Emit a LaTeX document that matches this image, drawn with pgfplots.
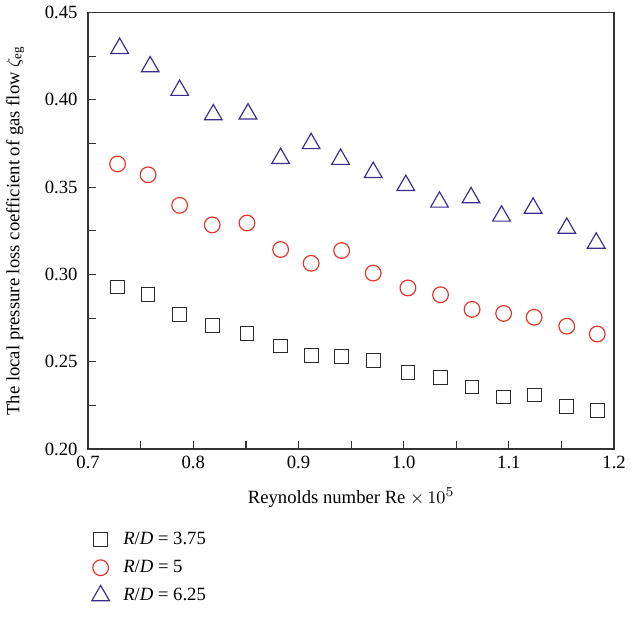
\documentclass[border=0pt]{standalone}
\usepackage{fontspec}
\setmainfont{Liberation Serif}
\usepackage{pgfplots}
\pgfplotsset{compat=1.18}
\definecolor{sqc}{HTML}{2B2B2B}
\definecolor{circc}{HTML}{E5352B}
\definecolor{tric}{HTML}{3A2E8C}
\begin{document}
\fontsize{9.5}{11}\selectfont
\begin{tikzpicture}
\begin{axis}[
    width=267.5pt, height=222pt,
    scale only axis,
    xmin=0.7, xmax=1.2,
    ymin=0.20, ymax=0.45,
    xtick={0.7,0.8,...,1.2},
    ytick={0.20,0.25,...,0.45},
    minor x tick num=1,
    minor y tick num=1,
    tick align=inside,
    xtick pos=left, ytick pos=left,
    major tick length=4pt, minor tick length=4pt,
    axis line style={draw=black!80, line width=0.9pt},
    every tick/.style={black!80, line width=0.6pt},
    /pgf/number format/assume math mode=true,
    xticklabel style={/pgf/number format/fixed, /pgf/number format/fixed zerofill, /pgf/number format/precision=1},
    yticklabel style={/pgf/number format/fixed, /pgf/number format/fixed zerofill, /pgf/number format/precision=2, xshift=-2pt},
    tick label style={font=\fontsize{9.5}{11}\selectfont},
    xlabel={Reynolds number Re $\times\,10^5$},
    ylabel={The local pressure loss coefficient of gas flow $\zeta_{\mathrm{eg}}$},
    label style={font=\fontsize{9.5}{11}\selectfont},
    ylabel style={yshift=4pt},
    xlabel style={yshift=-3pt},
    legend style={at={(-0.005,-0.158)}, anchor=north west, draw=none, fill=none,
        inner ysep=5pt, row sep=2.5pt, font=\fontsize{9.5}{11}\selectfont, cells={anchor=west}},
    legend cell align=left,
]
\addplot[only marks, mark=square, mark size=3.5pt, draw=sqc, line width=0.5pt] coordinates {
(0.728,0.2929) (0.757,0.2884) (0.787,0.2771) (0.818,0.2710) (0.851,0.2664) (0.883,0.2591)
(0.912,0.2535) (0.941,0.2529) (0.971,0.2507) (1.004,0.2439) (1.035,0.2411) (1.065,0.2355)
(1.095,0.2298) (1.124,0.2310) (1.155,0.2242) (1.184,0.2220)};
\addplot[only marks, mark=o, mark size=4pt, draw=circc, line width=0.6pt] coordinates {
(0.728,0.3633) (0.757,0.3571) (0.787,0.3396) (0.818,0.3284) (0.851,0.3295) (0.883,0.3143)
(0.912,0.3064) (0.941,0.3137) (0.971,0.3008) (1.004,0.2923) (1.035,0.2884) (1.065,0.2800)
(1.095,0.2777) (1.124,0.2755) (1.155,0.2704) (1.184,0.2659)};
\addplot[only marks, mark=triangle, mark size=5.2pt, draw=tric, line width=0.6pt] coordinates {
(0.730,0.4295) (0.759,0.4190) (0.787,0.4055) (0.819,0.3915) (0.852,0.3920) (0.883,0.3665)
(0.912,0.3750) (0.940,0.3660) (0.971,0.3585) (1.002,0.3510) (1.034,0.3415) (1.064,0.3440)
(1.093,0.3335) (1.123,0.3380) (1.155,0.3265) (1.183,0.3180)};
\legend{\hspace{5pt}\textit{R}/\textit{D} = 3.75, \hspace{5pt}\textit{R}/\textit{D} = 5, \hspace{5pt}\textit{R}/\textit{D} = 6.25}
\end{axis}
\end{tikzpicture}
\end{document}
